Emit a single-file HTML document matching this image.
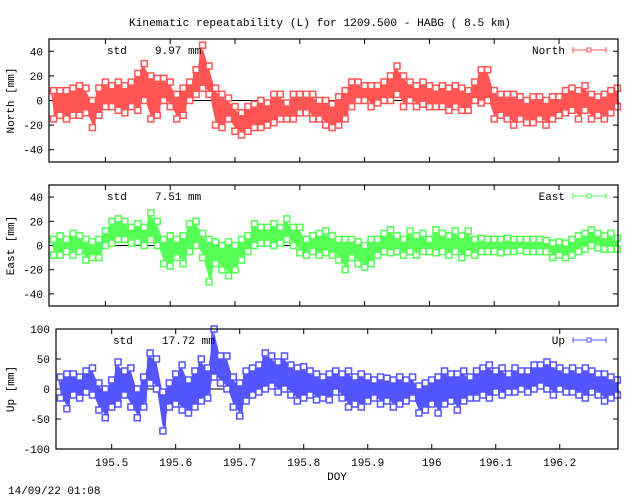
<!DOCTYPE html>
<html><head><meta charset="utf-8">
<style>
html,body{margin:0;padding:0;background:#fff;}
svg{display:block;font-family:"Liberation Mono","DejaVu Sans Mono",monospace;font-size:11px;}
</style></head>
<body>
<svg id="chart" width="640" height="496" viewBox="0 0 640 496" xmlns="http://www.w3.org/2000/svg">
<text x="320" y="26" text-anchor="middle" textLength="382" lengthAdjust="spacingAndGlyphs">Kinematic repeatability (L) for 1209.500 - HABG  (  8.5 km)</text>
<text x="337" y="480" text-anchor="middle">DOY</text>
<text x="8" y="494">14/09/22 01:08</text>
</svg>
<script>
const days = [];
for (let i = 0; i < 88; i++) days.push(195.42 + i * 0.01);
const northLo = [-15,-12,-15,-12,-12,-10,-22,-12,-5,-5,-8,-10,-5,-8,0,-15,-12,0,-5,-15,-12,0,5,10,5,-20,-22,-15,-25,-28,-25,-22,-22,-20,-18,-15,-15,-15,-10,-10,-15,-15,-20,-22,-20,-15,-5,0,0,-5,-2,0,0,5,-5,0,-5,-3,-5,-5,-5,-8,-5,-8,-8,0,-2,0,-15,-12,-15,-20,-15,-18,-18,-15,-20,-15,-12,-10,-8,-15,-8,-15,-12,-15,-10,-5];
const northHi = [8,8,8,10,12,10,0,10,15,12,15,12,15,22,30,20,18,18,15,5,10,15,25,45,28,10,5,2,-5,-10,-5,-3,0,-2,5,5,-2,5,5,5,5,0,0,-3,3,8,15,15,12,12,12,15,20,28,20,15,12,15,12,10,12,10,12,10,8,15,25,25,8,5,5,5,3,0,3,3,0,3,3,8,10,8,12,5,3,5,8,10];
const eastLo = [-8,-8,-5,-8,-5,-12,-10,-10,0,2,5,5,2,3,0,5,0,-15,-17,-10,-15,-5,0,-10,-30,-15,-20,-25,-20,-12,-5,0,2,2,0,2,5,0,-6,-8,-5,-8,-6,-8,-12,-20,-10,-15,-18,-15,-8,-5,-6,-5,-8,-5,-8,-5,-5,-6,-5,-8,-5,-10,-6,-8,-5,-5,-5,-6,-5,-5,-4,-5,-5,-5,-5,-10,-8,-10,-8,-5,-3,0,-2,-3,-3,-3];
const eastHi = [5,8,5,10,8,5,3,5,12,20,22,20,15,18,15,27,20,5,8,5,8,18,20,10,5,3,0,3,0,5,8,18,15,15,18,15,22,15,15,5,8,10,12,8,5,5,5,3,0,5,5,10,13,8,5,12,8,10,5,13,10,8,12,8,12,5,6,5,5,5,6,5,5,5,5,5,4,2,3,2,5,8,10,13,10,8,10,6];
const upLo = [-15,-33,-10,-15,-5,-10,-35,-48,-30,-25,-10,-30,-48,-30,10,0,-70,-30,-25,-35,-40,-30,-20,-15,20,10,0,-30,-45,-20,-10,-5,0,5,-5,0,-10,-20,-15,-10,-18,-15,-18,-5,-15,-30,-25,-30,-20,-15,-25,-20,-30,-25,-20,-15,-40,-35,-25,-40,-25,-20,-35,-20,-15,-15,-10,-15,-5,-10,-5,-5,0,-5,0,5,0,-10,0,-5,-5,-10,-15,-5,-10,-20,-15,-10];
const upHi = [20,25,25,20,30,35,10,0,15,45,30,35,0,20,60,50,-5,10,25,40,15,30,50,35,100,55,55,20,10,30,35,40,60,55,45,55,40,35,37,30,25,20,25,30,25,30,20,25,20,15,20,18,15,20,15,20,5,10,15,20,30,25,25,30,20,30,35,40,30,35,25,35,30,30,40,40,45,40,35,30,35,30,35,30,25,25,20,15];
const xTicks = [195.5,195.6,195.7,195.8,195.9,196.0,196.1,196.2];
const xTickLabels = ["195.5","195.6","195.7","195.8","195.9","196","196.1","196.2"];
const ticksNE = [-40,-20,0,20,40];
const ticksUp = [-100,-50,0,50,100];

const NS = "http://www.w3.org/2000/svg";
const svg = document.getElementById('chart');
const XMIN = 195.413, XMAX = 196.291;
function mk(tag, attrs, parent) {
  const e = document.createElementNS(NS, tag);
  for (const k in attrs) e.setAttribute(k, attrs[k]);
  (parent || svg).appendChild(e);
  return e;
}
function panel(cfg) {
  const g = mk('g', {});
  
  
  const sx = d => cfg.l + (d - XMIN) / (XMAX - XMIN) * (cfg.r - cfg.l);
  const sy = v => cfg.b - (v - cfg.ymin) / (cfg.ymax - cfg.ymin) * (cfg.b - cfg.t);
  const z = mk('line', {x1: cfg.l, x2: cfg.r, y1: sy(0), y2: sy(0), stroke: '#000', 'stroke-width': 1}, g);
  
  
  cfg.yt.forEach(v => {
    const y = sy(v);
    mk('line', {x1: cfg.l, x2: cfg.l + 5, y1: y, y2: y, stroke: '#000'}, g);
    mk('line', {x1: cfg.r, x2: cfg.r - 5, y1: y, y2: y, stroke: '#000'}, g);
    const t = mk('text', {x: cfg.l - 6, y: y + 4, 'text-anchor': 'end'}, g);
    t.textContent = String(v);
    
    
  });
  xTicks.forEach((d, i) => {
    const x = sx(d);
    mk('line', {x1: x, x2: x, y1: cfg.b, y2: cfg.b - 5, stroke: '#000'}, g);
    mk('line', {x1: x, x2: x, y1: cfg.t, y2: cfg.t + 5, stroke: '#000'}, g);
    if (cfg.xlabels) {
      const t = mk('text', {x: x, y: cfg.b + 17, 'text-anchor': 'middle'}, g);
      t.textContent = xTickLabels[i];
      
      
    }
  });
  let top = [], bot = [], zig = [];
  days.forEach((d, i) => {
    const x = sx(d);
    top.push(x + ',' + (sy(cfg.hi[i]) + 3));
    bot.unshift(x + ',' + (sy(cfg.lo[i]) - 3));
    zig.push((x - 2) + ',' + sy(cfg.hi[i]));
    zig.push((x + 2) + ',' + sy(cfg.lo[i]));
  });
  const band = mk('polygon', {points: top.concat(bot).join(' '), fill: cfg.color, stroke: 'none'}, g);
  
  
  const ln = mk('polyline', {points: zig.join(' '), fill: 'none', stroke: cfg.color, 'stroke-width': 1.5}, g);
  
  
  days.forEach((d, i) => {
    [cfg.hi[i], cfg.lo[i]].forEach(v => {
      const m = mk('rect', {x: sx(d) - 3, y: sy(v) - 3, width: 6, height: 6, fill: '#fff', stroke: cfg.color, 'stroke-width': 1.5}, g);
      
      
    });
  });
  const f = mk('rect', {x: cfg.l, y: cfg.t, width: cfg.r - cfg.l, height: cfg.b - cfg.t, fill: 'none', stroke: '#000', 'stroke-width': 1.2}, g);
  
  
  const yt = mk('text', {x: 0, y: 0, 'text-anchor': 'middle', transform: 'translate(' + cfg.ytx + ',' + ((cfg.t + cfg.b) / 2) + ') rotate(-90)'}, g);
  yt.textContent = cfg.ytitle;
  
  
  const s1 = mk('text', {x: cfg.stdx, y: cfg.t + 15}, g);
  s1.textContent = 'std';
  
  
  const s2 = mk('text', {x: cfg.stdvx, y: cfg.t + 15}, g);
  s2.textContent = cfg.std + ' mm';
  
  
  const lg = mk('g', {}, g);
  
  
  const ly = cfg.t + 11;
  const lt = mk('text', {x: 565, y: ly + 4, 'text-anchor': 'end'}, lg);
  lt.textContent = cfg.label;
  mk('line', {x1: 573, x2: 606, y1: ly, y2: ly, stroke: cfg.color}, lg);
  mk('line', {x1: 573, x2: 573, y1: ly - 3, y2: ly + 3, stroke: cfg.color}, lg);
  mk('line', {x1: 606, x2: 606, y1: ly - 3, y2: ly + 3, stroke: cfg.color}, lg);
  mk('rect', {x: 587, y: ly - 2, width: 4, height: 4, fill: '#fff', stroke: cfg.color}, lg);
}
panel({name: 'north', l: 49, r: 618, t: 39, b: 162, ymin: -50, ymax: 50, yt: ticksNE, hi: northHi, lo: northLo, color: '#ff5555', ytitle: 'North [mm]', ytx: 14, std: '9.97', stdx: 107, stdvx: 155, label: 'North', xlabels: false});
panel({name: 'east', l: 49, r: 618, t: 185, b: 306, ymin: -50, ymax: 50, yt: ticksNE, hi: eastHi, lo: eastLo, color: '#55ff55', ytitle: 'East [mm]', ytx: 14, std: '7.51', stdx: 107, stdvx: 155, label: 'East', xlabels: false});
panel({name: 'up', l: 56, r: 618, t: 329, b: 449, ymin: -100, ymax: 100, yt: ticksUp, hi: upHi, lo: upLo, color: '#5555ff', ytitle: 'Up [mm]', ytx: 14, std: '17.72', stdx: 113, stdvx: 162, label: 'Up', xlabels: true});
</script>
</body></html>
